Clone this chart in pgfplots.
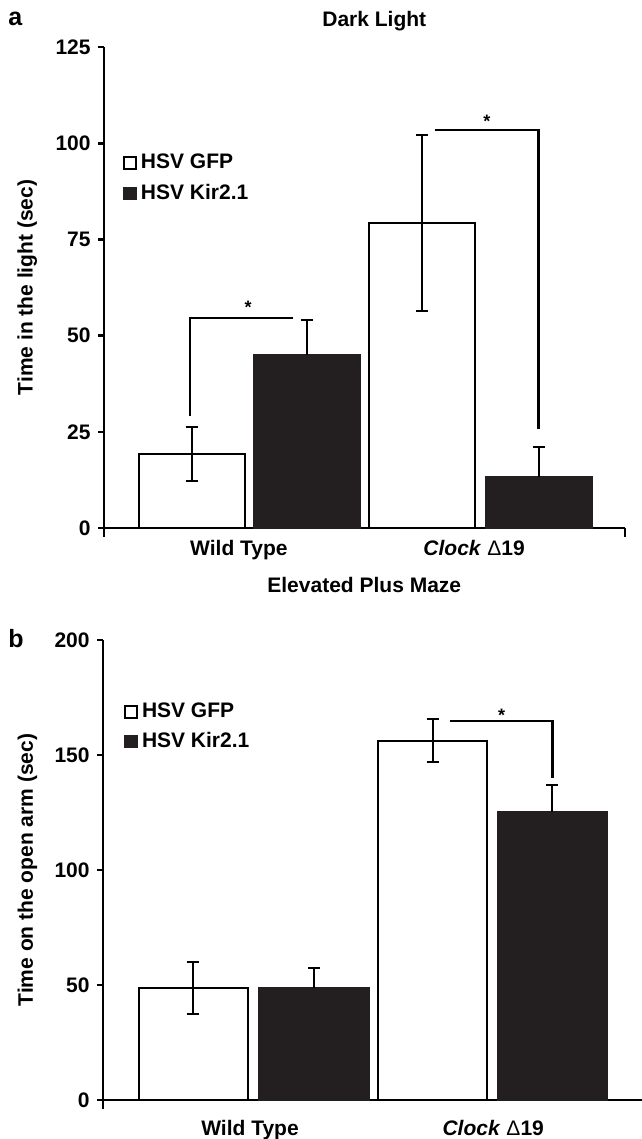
\documentclass[border=0pt]{standalone}
\usepackage{fontspec}
\setmainfont{Liberation Sans}
\usepackage{pgfplots}
\pgfplotsset{compat=1.18}
\definecolor{barblack}{HTML}{231F20}

\pgfplotsset{
  panel/.style={
    scale only axis,
    axis x line=bottom, axis y line=left,
    axis line style={-, line width=1.3bp, black},
    xmin=0, ymin=0,
    tick align=outside, major tick length=3bp,
    ytick style={line width=1.3bp, black},
    xtick style={draw=none},
    /pgf/number format/assume math mode=true,
    ticklabel style={font=\bfseries},
    yticklabel style={inner sep=3.5bp},
    xticklabel style={anchor=base, yshift=-10.5bp},
    label style={font=\bfseries},
    ybar, bar width=0.92, bar shift=0pt,
    clip=false,
    legend image code/.code={\draw[##1, line width=0.8bp] (0bp,-3bp) rectangle (6bp,3bp);},
    legend cell align=left,
    legend style={draw=none, fill=none, inner sep=0pt, font=\bfseries, anchor=west,
      nodes={inner sep=2pt, text depth=0.15em}},
  },
  gfp/.style={fill=white, draw=black, line width=1bp},
  kir/.style={fill=barblack, draw=barblack, line width=1bp},
  err/.style={error bars/y dir=#1, error bars/y explicit,
    error bars/error bar style={line width=1bp, black},
    error bars/error mark options={rotate=90, mark size=3bp, line width=1bp, black}},
}

\begin{document}
\fontsize{10.5bp}{12.6bp}\selectfont
\begin{tikzpicture}
\useasboundingbox (0,0) rectangle (321bp,-569.5bp);

% panel a: dark light
\begin{axis}[panel, at={(52bp,-264bp)}, anchor=south west,
  width=260.5bp, height=240.5bp,
  xmax=4.519, ymax=125, ytick={0,25,50,75,100,125},
  xtick={1.17,3.21}, xticklabels={Wild Type,{\textit{Clock} {\mdseries Δ}19}},
  ylabel={Time in the light (sec)},
  ylabel style={at={(axis description cs:-0.1472,0.5)}, anchor=center},
  legend style={at={(axis description cs:0.0365,0.7266)}, row sep=2.2bp,
    /tikz/every even column/.append style={column sep=3bp}}]
  \addplot[gfp, err=both] coordinates {(0.76,19.2) +- (0,7.0) (2.76,79.2) +- (0,22.9)};
  \addlegendentry{HSV GFP}
  \addplot[kir, err=plus] coordinates {(1.76,45.0) +- (0,9.1) (3.77,13.3) +- (0,7.8)};
  \addlegendentry{HSV Kir2.1}
  \draw[line width=1.3bp] (axis cs:0,0) -- ++(0,-4.5bp);
  \draw[line width=1.3bp] (axis cs:4.519,0) -- ++(0,-4.5bp);
  \draw[line width=1.2bp] (axis cs:0.746,29.1) |- (axis cs:1.64,54.6);
  \draw[line width=1.2bp] (axis cs:2.87,103.4) -| (axis cs:3.77,25.7);
  \node[anchor=base, inner sep=0pt, font=\bfseries\fontsize{9bp}{10bp}\selectfont] at (axis cs:1.25,55.8) {*};
  \node[anchor=base, inner sep=0pt, font=\bfseries\fontsize{9bp}{10bp}\selectfont] at (axis cs:3.32,104.1) {*};
\end{axis}

% panel b: elevated plus maze
\begin{axis}[panel, at={(51.5bp,-550bp)}, anchor=south west,
  width=269.5bp, height=230bp,
  xmax=4.503, ymax=200, ytick={0,50,100,150,200},
  bar width=0.915,
  xtick={1.228,3.26}, xticklabels={Wild Type,{\textit{Clock} {\mdseries Δ}19}},
  xticklabel style={yshift=-4bp},
  ylabel={Time on the open arm (sec)},
  ylabel style={at={(axis description cs:-0.1404,0.5)}, anchor=center},
  legend style={at={(axis description cs:0.039,0.811)}, row sep=1.7bp,
    /tikz/every even column/.append style={column sep=4.5bp}}]
  \addplot[gfp, err=both] coordinates {(0.756,48.7) +- (0,11.3) (2.753,156.2) +- (0,9.3)};
  \addlegendentry{HSV GFP}
  \addplot[kir, err=plus] coordinates {(1.763,48.5) +- (0,9.1) (3.755,125.4) +- (0,11.6)};
  \addlegendentry{HSV Kir2.1}
  \draw[line width=1.3bp] (axis cs:0,0) -- ++(0,-4.5bp);
  \draw[line width=1.2bp] (axis cs:2.90,164.9) -| (axis cs:3.755,140.0);
  \node[anchor=base, inner sep=0pt, font=\bfseries\fontsize{9bp}{10bp}\selectfont] at (axis cs:3.33,164.6) {*};
\end{axis}

\node[anchor=base west, inner sep=0pt, font=\bfseries\fontsize{12.5bp}{14bp}\selectfont] at (4bp,-12.5bp) {a};
\node[anchor=base west, inner sep=0pt, font=\bfseries] at (161bp,-13bp) {Dark Light};
\node[anchor=base west, inner sep=0pt, font=\bfseries] at (133.5bp,-296bp) {Elevated Plus Maze};
\node[anchor=base west, inner sep=0pt, font=\bfseries\fontsize{12.5bp}{14bp}\selectfont] at (4bp,-323.5bp) {b};
\end{tikzpicture}
\end{document}
